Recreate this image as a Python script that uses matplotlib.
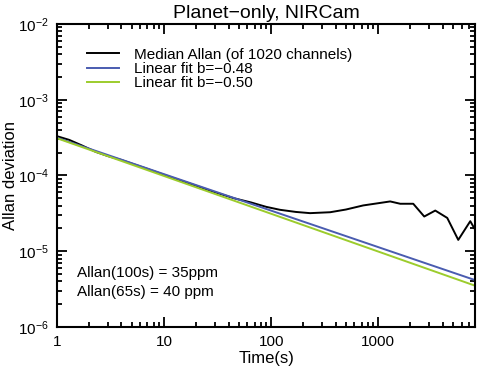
import matplotlib
matplotlib.use("Agg")
import matplotlib.pyplot as plt
from matplotlib.ticker import LogLocator, FixedLocator, FixedFormatter, NullFormatter

plt.rcParams['font.family'] = ['Liberation Sans', 'DejaVu Sans']
plt.rcParams['mathtext.fontset'] = 'custom'
plt.rcParams['mathtext.rm'] = 'Liberation Sans'
plt.rcParams['mathtext.it'] = 'Liberation Sans'

# Median Allan deviation curve
times = [1, 1.3, 1.7, 2.3, 3, 4, 5.5, 7, 10, 15, 20, 30, 45, 65, 90, 121, 170,
         231, 356, 500, 724, 1000, 1294, 1607, 2125, 2692, 3412, 4416, 5596,
         7244, 8050]
allan = [3.3e-4, 2.95e-4, 2.5e-4, 2.05e-4, 1.8e-4, 1.6e-4, 1.37e-4, 1.22e-4,
         1.02e-4, 8.4e-5, 7.3e-5, 6.0e-5, 5.0e-5, 4.4e-5, 3.85e-5, 3.52e-5,
         3.3e-5, 3.18e-5, 3.27e-5, 3.55e-5, 4.02e-5, 4.3e-5, 4.54e-5, 4.23e-5,
         4.23e-5, 2.87e-5, 3.44e-5, 2.75e-5, 1.41e-5, 2.49e-5, 1.92e-5]

# straight fit lines (end points)
fit_times = [1, 8050]
fit_048 = [3.15e-4, 4.15e-6]
fit_050 = [3.1e-4, 3.5e-6]

labels = ["Median Allan (of 1020 channels)",
          "Linear fit b=\u22120.48",
          "Linear fit b=\u22120.50"]
notes = ["Allan(100s) = 35ppm", "Allan(65s) = 40 ppm"]

fig = plt.figure(figsize=(4.79, 3.69), dpi=100)
ax = fig.add_axes([0.119, 0.114, 0.873, 0.821])

ax.plot(times, allan, color='black', lw=1.4, label=labels[0])
ax.plot(fit_times, fit_048, color='#4a5cb0', lw=1.4, label=labels[1])
ax.plot(fit_times, fit_050, color='#9ccc2c', lw=1.4, label=labels[2])

ax.set_xscale('log')
ax.set_yscale('log')
ax.set_xlim(1, 8050)
ax.set_ylim(1e-6, 1e-2)

ax.xaxis.set_major_locator(FixedLocator([1, 10, 100, 1000]))
ax.xaxis.set_major_formatter(FixedFormatter(['1', '10', '100', '1000']))
ax.xaxis.set_minor_locator(LogLocator(base=10, subs=range(2, 10), numticks=20))
ax.xaxis.set_minor_formatter(NullFormatter())
ax.yaxis.set_major_locator(LogLocator(base=10, numticks=10))
ax.yaxis.set_minor_locator(LogLocator(base=10, subs=range(2, 10), numticks=20))
ax.yaxis.set_minor_formatter(NullFormatter())

ax.tick_params(which='both', direction='in', top=True, right=True, width=1.3,
               labelsize=11, pad=6)
ax.tick_params(which='major', length=7)
ax.tick_params(which='minor', length=3.5)
for s in ax.spines.values():
    s.set_linewidth(1.5)

ax.set_title("Planet\u2212only, NIRCam", fontsize=14, pad=4)
ax.set_xlabel("Time(s)", fontsize=12, labelpad=1)
ax.set_ylabel("Allan deviation", fontsize=12, labelpad=0)

ax.legend(loc='upper left', bbox_to_anchor=(0.057, 0.942), frameon=False,
          fontsize=11, handlelength=2.1, handletextpad=1.0, labelspacing=0.02,
          borderaxespad=0)

ax.text(0.047, 0.178, notes[0], transform=ax.transAxes, fontsize=11, va='center')
ax.text(0.047, 0.114, notes[1], transform=ax.transAxes, fontsize=11, va='center')

fig.savefig("out.png", dpi=100)
